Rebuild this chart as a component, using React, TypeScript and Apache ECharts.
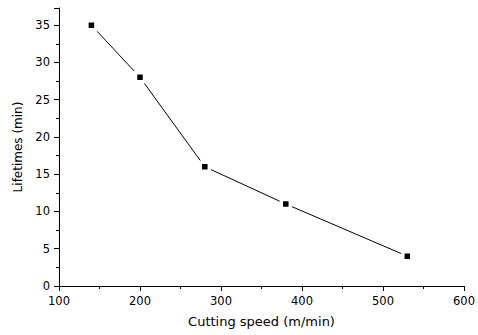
import React, { useEffect, useRef } from "react";
import * as echarts from "echarts";

const speeds = [140, 200, 280, 380, 530];
const lifetimes = [35, 28, 16, 11, 4];
const xTicks = [100, 200, 300, 400, 500, 600];
const yTicks = [0, 5, 10, 15, 20, 25, 30, 35];

export default function App() {
  const ref = useRef<HTMLDivElement>(null);
  useEffect(() => {
    if (!ref.current) return;
    const chart = echarts.init(ref.current, null, { renderer: "svg" });
    const font = "DejaVu Sans, Arial, sans-serif";
    const axisCommon = {
      axisLine: { show: true, lineStyle: { color: "#000", width: 1 } },
      axisTick: { show: true, inside: false, length: 5, lineStyle: { color: "#000" } },
      minorTick: { show: true, splitNumber: 2, length: 3, lineStyle: { color: "#000" } },
      splitLine: { show: false },
      axisLabel: { color: "#000", fontSize: 11.5, fontFamily: font },
    };
    chart.setOption({
      animation: false,
      backgroundColor: "#fff",
      grid: { left: 59, right: 9, top: 8, bottom: 49, containLabel: false },
      xAxis: {
        type: "value",
        min: xTicks[0],
        max: xTicks[xTicks.length - 1],
        interval: 100,
        name: "Cutting speed (m/min)",
        nameLocation: "middle",
        nameGap: 29,
        nameTextStyle: { color: "#000", fontSize: 13, fontFamily: font },
        ...axisCommon,
        axisLabel: { ...axisCommon.axisLabel, margin: 9 },
      },
      yAxis: {
        type: "value",
        min: yTicks[0],
        max: 37.3,
        interval: 5,
        name: "Lifetimes (min)",
        nameLocation: "middle",
        nameGap: 31,
        nameTextStyle: { color: "#000", fontSize: 12, fontFamily: font },
        ...axisCommon,
        axisLabel: {
          ...axisCommon.axisLabel,
          margin: 9,
          formatter: (v: number) => (yTicks.includes(v) ? String(v) : ""),
        },
      },
      series: [
        {
          type: "line",
          data: speeds.map((s, i) => [s, lifetimes[i]]),
          symbol: "rect",
          symbolSize: 9,
          lineStyle: { color: "#000", width: 1 },
          itemStyle: { color: "#000", borderColor: "#fff", borderWidth: 3.5 },
        },
      ],
    });
    return () => chart.dispose();
  }, []);
  return <div ref={ref} style={{ width: 478, height: 335, position: "absolute", left: 0, top: 0 }} />;
}
